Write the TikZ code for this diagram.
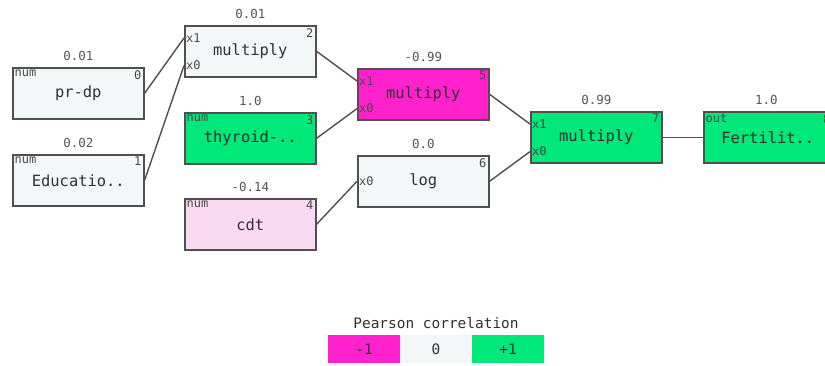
\documentclass[tikz,border=0pt]{standalone}
\usepackage{fontspec}
\setmonofont{DejaVu Sans Mono}
\definecolor{pale}{HTML}{F4F7F7}
\definecolor{posgreen}{HTML}{00E87A}
\definecolor{negmag}{HTML}{FF22CC}
\definecolor{negpink}{HTML}{FADAF0}
\definecolor{boxline}{HTML}{505050}
\definecolor{wirecol}{HTML}{505050}
\definecolor{txt}{HTML}{303030}
\definecolor{tagtxt}{HTML}{484848}
\definecolor{valtxt}{HTML}{555555}
\tikzset{
  opbox/.style={draw=boxline, line width=1.6bp, minimum width=131bp, minimum height=51bp,
    inner sep=0pt, text=txt, font=\ttfamily\fontsize{15.5}{15.5}\selectfont},
  tag/.style={inner sep=0pt, text=tagtxt, font=\ttfamily\fontsize{12}{12}\selectfont},
  val/.style={inner sep=0pt, text=valtxt, font=\ttfamily\fontsize{12.5}{12.5}\selectfont},
  wire/.style={draw=wirecol, line width=1.4bp},
  legcell/.style={minimum width=72bp, minimum height=28bp, inner sep=0pt, text=txt,
    font=\ttfamily\fontsize{14.5}{14.5}\selectfont},
}
% \gnode{name}{x}{y}{fill}{label}{kind}{index}{value}
\newcommand{\gnode}[8]{%
  \node[opbox, fill=#4, anchor=north west] (#1) at (#2,#3) {#5};
  \node[tag, anchor=north west] (#1k) at ([shift={(2.5bp,-3bp)}]#1.north west) {#6};
  \node[tag, anchor=north east] (#1i) at ([shift={(-3bp,-3bp)}]#1.north east) {#7};
  \node[val, anchor=south] (#1v) at ([yshift=6bp]#1.north) {#8};
}
% input ports of a two-input operation
\newcommand{\twoports}[1]{%
  \coordinate (#1p1) at ([yshift=-13bp]#1.north west);
  \coordinate (#1p0) at ([yshift=12bp]#1.south west);
  \node[tag, anchor=west] at ([xshift=2bp]#1p1) {x1};
  \node[tag, anchor=west] at ([xshift=2bp]#1p0) {x0};
}
\begin{document}
\begin{tikzpicture}[x=1bp, y=-1bp]
  \clip (0,0) rectangle (825,365);
  \fill[white] (0,0) rectangle (825,365);

  % inputs
  \gnode{n0}{12}{67}{pale}{pr-dp}{num}{0}{0.01}
  \gnode{n1}{12}{154}{pale}{Educatio..}{num}{1}{0.02}
  \gnode{n3}{184}{112}{posgreen}{thyroid-..}{num}{3}{1.0}
  \gnode{n4}{184}{198}{negpink}{cdt}{num}{4}{-0.14}

  % operations
  \gnode{n2}{184}{25}{pale}{multiply}{}{2}{0.01}
  \twoports{n2}
  \gnode{n5}{357}{68}{negmag}{multiply}{}{5}{-0.99}
  \twoports{n5}
  \gnode{n6}{357}{155}{pale}{log}{}{6}{0.0}
  \coordinate (n6p0) at (n6.west);
  \node[tag, anchor=west] at ([xshift=2bp]n6p0) {x0};
  \gnode{n7}{530}{111}{posgreen}{multiply}{}{7}{0.99}
  \twoports{n7}

  % output (runs past the right edge)
  \node[opbox, fill=posgreen, anchor=north west, minimum width=128bp] (n8) at (703,111) {Fertilit..};
  \node[tag, anchor=north west] (n8k) at ([shift={(2.5bp,-3bp)}]n8.north west) {out};
  \node[tag, anchor=north east] (n8i) at ([shift={(-2bp,-3bp)}]n8.north east) {8};
  \node[val, anchor=south] (n8v) at ([shift={(-1.5bp,6bp)}]n8.north) {1.0};

  % connectors
  \draw[wire] (n0.east) -- (n2p1);
  \draw[wire] (n1.east) -- (n2p0);
  \draw[wire] (n2.east) -- (n5p1);
  \draw[wire] (n3.east) -- (n5p0);
  \draw[wire] (n4.east) -- (n6p0);
  \draw[wire] (n5.east) -- (n7p1);
  \draw[wire] (n6.east) -- (n7p0);
  \draw[wire] (n7.east) -- (n8.west);

  % colour legend
  \node[inner sep=0pt, text=txt, font=\ttfamily\fontsize{14.5}{14.5}\selectfont] (legtitle) at (436,323) {Pearson correlation};
  \node[legcell, fill=negmag] (legneg) at (364,349) {-1};
  \node[legcell, fill=pale] (legzero) at (436,349) {0};
  \node[legcell, fill=posgreen] (legpos) at (508,349) {+1};
\end{tikzpicture}
\end{document}
